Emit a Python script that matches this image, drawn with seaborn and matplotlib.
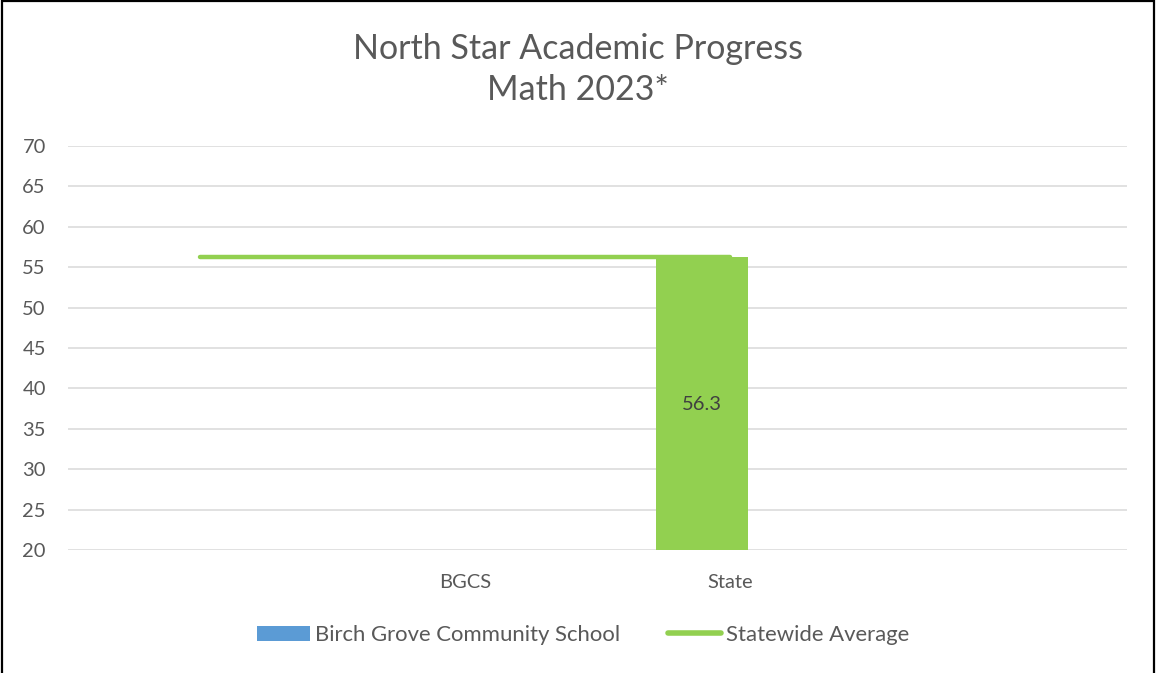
import matplotlib
matplotlib.use("Agg")
import matplotlib.pyplot as plt
from matplotlib.lines import Line2D
from matplotlib.patches import Patch, Rectangle
import numpy as np
import pandas as pd
import seaborn as sns

# ---- data ----
categories = ["", "BGCS", "State", ""]
school_scores = [np.nan, np.nan, 56.3, np.nan]      # Birch Grove Community School bars
statewide_avg = [56.3, 56.3, 56.3, np.nan]          # Statewide Average line
y_ticks = [20, 25, 30, 35, 40, 45, 50, 55, 60, 65, 70]

title_lines = ["North Star Academic Progress", "Math 2023*"]
series_names = ["Birch Grove Community School", "Statewide Average"]

# ---- style ----
sns.set_theme(style="white")
plt.rcParams["font.family"] = ["Lato", "DejaVu Sans"]

GREEN = "#92d050"
BLUE = "#5b9bd5"
TEXT = "#595959"
GRID = "#d9d9d9"

pos = np.arange(len(categories))
df = pd.DataFrame({"pos": pos, "category": categories,
                   "school": school_scores, "statewide": statewide_avg})

fig = plt.figure(figsize=(11.56, 6.73), dpi=100)
ax = fig.add_axes([68 / 1156, 1 - 550 / 673, (1127 - 68) / 1156, (550 - 146) / 673])

# bars (state-level bar is shown in green)
bar_offset = -0.105
bar_width = 0.3475
bar_colors = [BLUE, BLUE, GREEN, BLUE]
for p, v, c in zip(df["pos"], df["school"], bar_colors):
    if np.isfinite(v):
        ax.bar(p + bar_offset, v - y_ticks[0], bottom=y_ticks[0], width=bar_width,
               color=c, linewidth=0, zorder=2)
        ax.text(p + bar_offset, (v + y_ticks[0]) / 2, f"{v:.1f}", ha="center",
                va="center_baseline", fontsize=14.5, color="#404040", zorder=4)

# statewide average line
sns.lineplot(data=df, x="pos", y="statewide", ax=ax, color=GREEN, linewidth=3.2,
             solid_capstyle="round", zorder=3, legend=False)

ax.set_xlim(-0.5, len(categories) - 0.5)
ax.set_ylim(y_ticks[0], y_ticks[-1])
ax.set_xticks(pos)
ax.set_xticklabels(categories)
ax.set_yticks(y_ticks)
ax.set_xlabel("")
ax.set_ylabel("")
ax.grid(axis="y", color=GRID, linewidth=1.1, zorder=0)
ax.set_axisbelow(True)
for s in ax.spines.values():
    s.set_visible(False)
ax.tick_params(axis="both", length=0, labelsize=14.5, labelcolor=TEXT)
ax.tick_params(axis="y", pad=16)
ax.tick_params(axis="x", pad=17)

# title
fig.text(0.5, 1 - 69.5 / 673, "\n".join(title_lines), ha="center", va="center",
         fontsize=24.5, color=TEXT, linespacing=1.32)

# legend
handles = [Patch(facecolor=BLUE, edgecolor="none"),
           Line2D([], [], color=GREEN, linewidth=4, solid_capstyle="round")]
fig.legend(handles, series_names, loc="center", bbox_to_anchor=(583 / 1156, 1 - 635 / 673),
           ncol=2, frameon=False, fontsize=15.9, labelcolor=TEXT, handlelength=2.4,
           handleheight=0.65, handletextpad=0.22, columnspacing=2.2)

# chart border
fig.add_artist(Rectangle((0.0015, -0.05), 0.997, 1.048, transform=fig.transFigure,
                         fill=False, edgecolor="black", linewidth=1.6))

fig.savefig("out.png", dpi=100)
